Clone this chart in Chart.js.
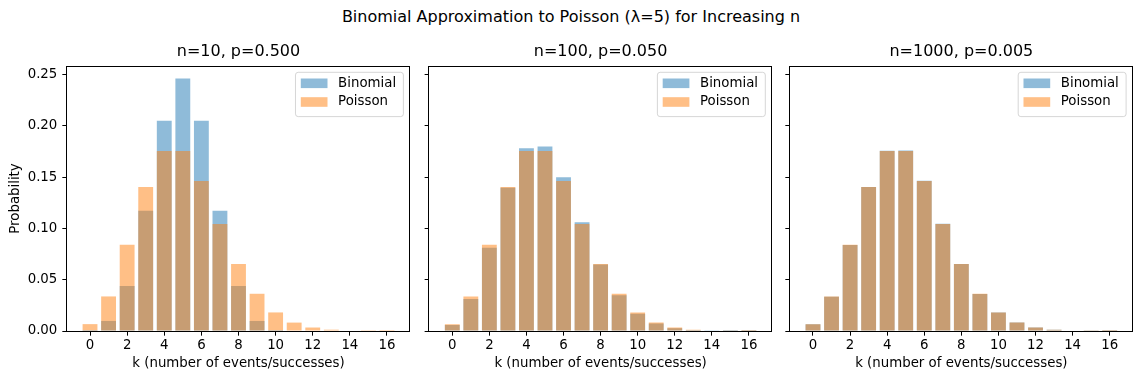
<!DOCTYPE html>
<html><head><meta charset="utf-8">
<script src="https://cdn.jsdelivr.net/npm/chart.js@4/dist/chart.umd.min.js"></script>
<style>
html,body{margin:0;padding:0;background:#fff;}
body{width:1142px;height:381px;position:relative;overflow:hidden;font-family:'DejaVu Sans';}
canvas{position:absolute;top:0;}
#sup{position:absolute;left:0;width:1142px;top:9px;text-align:center;font-size:16px;line-height:16px;color:#000;white-space:nowrap;}
</style></head><body>
<div id="sup">Binomial Approximation to Poisson (λ=5) for Increasing n</div>
<canvas id="c1" width="420" height="381" style="left:0px"></canvas>
<canvas id="c2" width="361" height="381" style="left:420px"></canvas>
<canvas id="c3" width="361" height="381" style="left:781px"></canvas>
<script>
// ---- data ----
const kValues = [0,1,2,3,4,5,6,7,8,9,10,11,12,13,14,15,16];
const xTicks = [0,2,4,6,8,10,12,14,16];
const yTicks = [0.00,0.05,0.10,0.15,0.20,0.25];
const poissonLambda5 = [0.0067,0.0337,0.0842,0.1404,0.1755,0.1755,0.1462,0.1044,0.0653,0.0363,0.0181,0.0082,0.0034,0.0013,0.0005,0.0002,0.00005];
const binomN10 = [0.0010,0.0098,0.0439,0.1172,0.2051,0.2461,0.2051,0.1172,0.0439,0.0098,0.0010,0,0,0,0,0,0];
const binomN100 = [0.0059,0.0312,0.0812,0.1396,0.1781,0.1800,0.1500,0.1060,0.0649,0.0349,0.0167,0.0072,0.0028,0.0010,0.0003,0.0001,0.00002];
const binomN1000 = [0.0067,0.0334,0.0839,0.1403,0.1758,0.1760,0.1466,0.1046,0.0653,0.0362,0.0180,0.0082,0.0034,0.0013,0.0005,0.0002,0.00005];
const panelTitles = ['n=10, p=0.500','n=100, p=0.050','n=1000, p=0.005'];
const binomSeries = [binomN10, binomN100, binomN1000];
const seriesLabels = ['Binomial','Poisson'];
const xLimits = [-1.24, 17.24];
const yLimits = [0, 0.2584];

// ---- styling ----
const FONT = "'DejaVu Sans'";
Chart.defaults.font.family = FONT;
Chart.defaults.color = '#000';
const BLUE = 'rgba(31,119,180,0.5)';
const ORANGE = 'rgba(255,127,14,0.5)';
const TICK_FONT = {size: 13.33, family: FONT};

const framePlugin = {
  id: 'frame',
  afterDatasetsDraw(chart) {
    const {ctx, chartArea: a} = chart;
    ctx.save();
    ctx.strokeStyle = '#000';
    ctx.lineWidth = 1;
    const l = Math.round(a.left) - 0.5, t = Math.round(a.top) + 0.5;
    const r = Math.round(a.right) - 0.5, b = Math.round(a.bottom) + 0.5;
    ctx.strokeRect(l, t, r - l, b - t);
    ctx.restore();
  }
};

const boxLegend = {
  id: 'boxLegend',
  afterDraw(chart) {
    const {ctx, chartArea: a} = chart;
    const items = chart.data.datasets.map(d => ({label: d.label, color: d.backgroundColor}));
    ctx.save();
    ctx.font = "13.33px " + FONT;
    const tw = Math.max(...items.map(i => ctx.measureText(i.label).width));
    const w = 42.6 + tw + 7.3, h = 44.3;
    const x0 = a.right - 6.6 - w, y0 = a.top + 6.3;
    ctx.beginPath();
    ctx.roundRect(x0, y0, w, h, 2.7);
    ctx.fillStyle = 'rgba(255,255,255,0.8)';
    ctx.fill();
    ctx.strokeStyle = 'rgba(204,204,204,0.8)';
    ctx.lineWidth = 1;
    ctx.stroke();
    items.forEach((it, i) => {
      const cy = y0 + 11 + i * 18.7;
      ctx.fillStyle = it.color;
      ctx.fillRect(x0 + 5.3, cy - 4.8, 26.7, 9.6);
      ctx.fillStyle = '#000';
      ctx.textBaseline = 'middle';
      ctx.textAlign = 'left';
      ctx.fillText(it.label, x0 + 42.6, cy);
    });
    ctx.restore();
  }
};

const panels = [
  {id: 'c1', yW: 67, padR: 10, showY: true},
  {id: 'c2', yW: 9.3, padR: 9.1, showY: false},
  {id: 'c3', yW: 9, padR: 9.3, showY: false}
];

panels.forEach((p, i) => {
  const toPts = arr => kValues.map((k, j) => ({x: k, y: arr[j]}));
  new Chart(document.getElementById(p.id), {
    type: 'bar',
    data: {
      datasets: [
        {label: seriesLabels[0], data: toPts(binomSeries[i]), backgroundColor: BLUE, order: 1},
        {label: seriesLabels[1], data: toPts(poissonLambda5), backgroundColor: ORANGE, order: 0}
      ]
    },
    options: {
      responsive: false,
      animation: false,
      devicePixelRatio: 1,
      events: [],
      datasets: {bar: {grouped: false, categoryPercentage: 1, barPercentage: 0.8, borderWidth: 0}},
      layout: {padding: {left: 0, right: p.padR, top: 0, bottom: 0}},
      plugins: {
        legend: {display: false},
        tooltip: {enabled: false},
        title: {
          display: true, text: panelTitles[i], fullSize: false,
          font: {size: 16, family: FONT, weight: 'normal'}, color: '#000',
          padding: {top: 42.7, bottom: 4.1}
        }
      },
      scales: {
        x: {
          type: 'linear', min: xLimits[0], max: xLimits[1], offset: false,
          afterBuildTicks: s => { s.ticks = xTicks.map(v => ({value: v})); },
          afterFit: s => { s.height = 50; },
          grid: {display: true, offset: false, drawOnChartArea: false, drawTicks: true, tickLength: 4.67, tickColor: '#000', tickWidth: 1},
          border: {display: false},
          ticks: {font: TICK_FONT, color: '#000', padding: 2, autoSkip: false, maxRotation: 0, callback: v => String(v)},
          title: {display: true, text: 'k (number of events/successes)', font: TICK_FONT, color: '#000', padding: {top: 0, bottom: 9}}
        },
        y: {
          type: 'linear', min: yLimits[0], max: yLimits[1],
          afterBuildTicks: s => { s.ticks = yTicks.map(v => ({value: v})); },
          afterFit: s => { s.width = p.yW; },
          grid: {display: true, drawOnChartArea: false, drawTicks: true, tickLength: 4.67, tickColor: '#000', tickWidth: 1},
          border: {display: false},
          ticks: {font: TICK_FONT, color: '#000', padding: 5, callback: v => p.showY ? v.toFixed(2) : ''},
          title: {display: p.showY, text: 'Probability', font: TICK_FONT, color: '#000', padding: {top: 8, bottom: 0}}
        }
      }
    },
    plugins: [framePlugin, boxLegend]
  });
});
</script>
</body></html>
